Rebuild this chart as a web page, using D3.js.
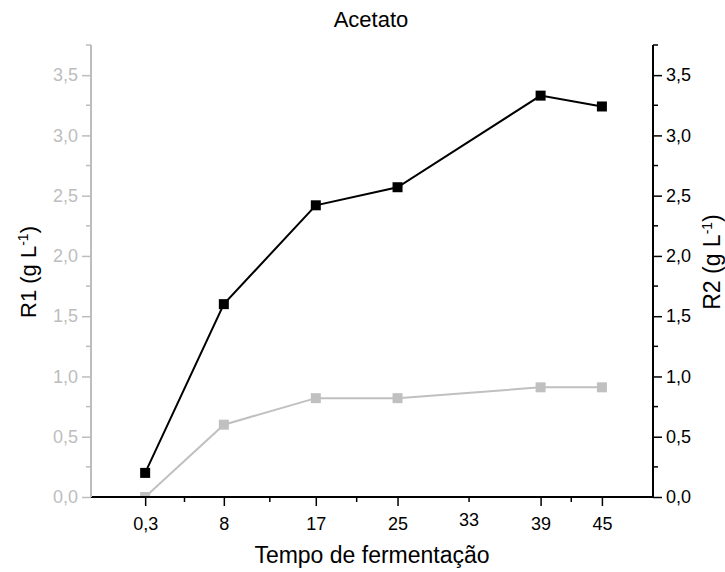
<!DOCTYPE html>
<html>
<head>
<meta charset="utf-8">
<script src="https://cdn.jsdelivr.net/npm/d3@7"></script>
<style>
  body { margin: 0; background: #fff; }
  text { font-family: "Liberation Sans", Arial, sans-serif; }
</style>
</head>
<body>
<svg id="chart" width="725" height="572"></svg>
<script>
//
// Data
//

var tempos = [0.3, 8, 17, 25, 39, 45]
var r1 = [0.0, 0.6, 0.82, 0.82, 0.91, 0.91]
var r2 = [0.2, 1.6, 2.42, 2.57, 3.33, 3.24]
var xTicks = [0.3, 8, 17, 25, 39, 45]
var xMinor = [4.15, 12.5, 21, 32, 42]
var yTicks = [0, 0.5, 1, 1.5, 2, 2.5, 3, 3.5]
var yMinor = [0.25, 0.75, 1.25, 1.75, 2.25, 2.75, 3.25, 3.75]

//
// Configuration
//

var colorR1 = '#c0c0c0'
var colorR1Axis = '#bdbdbd'
var colorR2 = '#000'
var plotLeft = 91, plotRight = 653, plotTop = 45, plotBottom = 497
var fmt = function(d) { return d3.format('.1f')(d).replace('.', ',') }

var svg = d3.select('#chart')

var x = d3.scaleLinear().domain([-5, 50]).range([plotLeft, plotRight])
var y = d3.scaleLinear().domain([0, 3.75]).range([plotBottom, plotTop])

// grey series is clipped at the frame, as in the original
svg.append('clipPath').attr('id', 'plot')
  .append('rect')
  .attr('x', plotLeft).attr('y', plotTop)
  .attr('width', plotRight - plotLeft).attr('height', plotBottom - plotTop)

//
// Series
//

function drawSeries(values, color, clip) {
  var pts = tempos.map(function(t, i) { return [t, values[i]] })
  var g = svg.append('g')
  if (clip) g.attr('clip-path', 'url(#plot)')
  g.append('path')
    .datum(pts)
    .attr('fill', 'none')
    .attr('stroke', color)
    .attr('stroke-width', 2)
    .attr('d', d3.line().x(function(d) { return x(d[0]) }).y(function(d) { return y(d[1]) }))
  g.selectAll(null)
    .data(pts)
    .enter()
    .append('rect')
    .attr('x', function(d) { return x(d[0]) - 5 })
    .attr('y', function(d) { return y(d[1]) - 5 })
    .attr('width', 10).attr('height', 10)
    .attr('fill', color)
}

drawSeries(r1, colorR1, true)
drawSeries(r2, colorR2, false)

//
// Axes
//

var xAxis = svg.append('g')
  .attr('transform', 'translate(0,' + plotBottom + ')')
  .call(d3.axisBottom(x).tickValues(xTicks).tickSize(9).tickPadding(11)
    .tickFormat(function(d) { return String(d).replace('.', ',') }))
xAxis.select('.domain').attr('d', 'M' + plotLeft + ',0H' + plotRight).attr('stroke-width', 2)
xAxis.selectAll('.tick line').attr('stroke-width', 1.5)
xAxis.selectAll('text').attr('font-size', 18).attr('fill', '#000')

svg.append('g')
  .attr('transform', 'translate(0,' + plotBottom + ')')
  .selectAll('line')
  .data(xMinor)
  .enter()
  .append('line')
  .attr('x1', function(d) { return x(d) })
  .attr('x2', function(d) { return x(d) })
  .attr('y1', 0).attr('y2', 5)
  .attr('stroke', '#000').attr('stroke-width', 1.5)

// extra label placed by hand in the original
svg.append('text')
  .attr('x', x(32)).attr('y', plotBottom + 29)
  .attr('text-anchor', 'middle').attr('font-size', 18)
  .text('33')

var yLeft = svg.append('g')
  .attr('transform', 'translate(' + plotLeft + ',0)')
  .call(d3.axisLeft(y).tickValues(yTicks).tickSize(9).tickPadding(4).tickFormat(fmt))
yLeft.select('.domain').attr('d', 'M0,' + plotTop + 'V' + plotBottom).attr('stroke', colorR1Axis).attr('stroke-width', 2)
yLeft.selectAll('.tick line').attr('stroke', colorR1Axis).attr('stroke-width', 1.5)
yLeft.selectAll('text').attr('font-size', 18).attr('fill', colorR1Axis)

var yRight = svg.append('g')
  .attr('transform', 'translate(' + plotRight + ',0)')
  .call(d3.axisRight(y).tickValues(yTicks).tickSize(9).tickPadding(4).tickFormat(fmt))
yRight.select('.domain').attr('d', 'M0,' + plotTop + 'V' + plotBottom).attr('stroke-width', 2)
yRight.selectAll('.tick line').attr('stroke-width', 1.5)
yRight.selectAll('text').attr('font-size', 18).attr('fill', '#000')

svg.append('g').selectAll('line')
  .data(yMinor)
  .enter()
  .append('line')
  .attr('x1', plotLeft - 5).attr('x2', plotLeft)
  .attr('y1', function(d) { return y(d) })
  .attr('y2', function(d) { return y(d) })
  .attr('stroke', colorR1Axis).attr('stroke-width', 1.5)

svg.append('g').selectAll('line')
  .data(yMinor)
  .enter()
  .append('line')
  .attr('x1', plotRight).attr('x2', plotRight + 5)
  .attr('y1', function(d) { return y(d) })
  .attr('y2', function(d) { return y(d) })
  .attr('stroke', '#000').attr('stroke-width', 1.5)

//
// Titles
//

svg.append('text')
  .attr('x', 371).attr('y', 27)
  .attr('text-anchor', 'middle').attr('font-size', 22)
  .text('Acetato')

svg.append('text')
  .attr('x', 372).attr('y', 563)
  .attr('text-anchor', 'middle').attr('font-size', 23)
  .text('Tempo de fermentação')

var t1 = svg.append('text')
  .attr('transform', 'translate(36,272) rotate(-90)')
  .attr('text-anchor', 'middle').attr('font-size', 22)
t1.append('tspan').text('R1 (g L')
t1.append('tspan').attr('dy', -8).attr('font-size', 14).text('-1')
t1.append('tspan').attr('dy', 8).text(')')

var t2 = svg.append('text')
  .attr('transform', 'translate(720,262) rotate(-90)')
  .attr('text-anchor', 'middle').attr('font-size', 23)
t2.append('tspan').text('R2 (g L')
t2.append('tspan').attr('dy', -8).attr('font-size', 14).text('-1')
t2.append('tspan').attr('dy', 8).text(')')
</script>
</body>
</html>
